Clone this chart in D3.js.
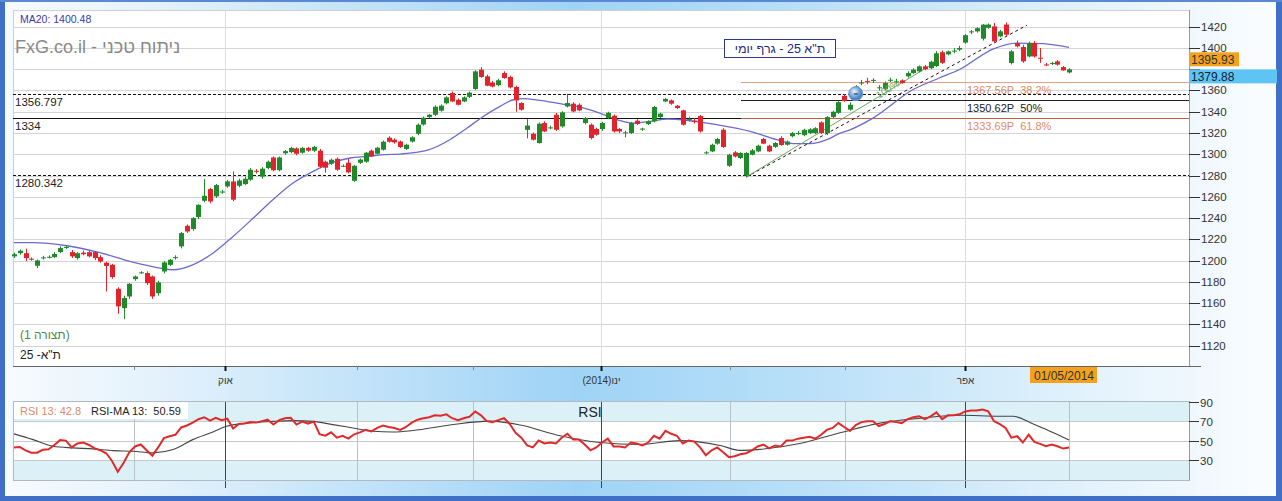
<!DOCTYPE html>
<html><head><meta charset="utf-8">
<script src="https://cdn.jsdelivr.net/npm/d3@7"></script>
<style>html,body{margin:0;padding:0;overflow:hidden;background:#fff}svg{display:block}</style>
</head><body>
<svg id="c" width="1282" height="501"></svg>
<script>
// ---------- DATA ----------
const opens = [1204,1207,1207,1201.8,1195.2,1202.4,1203.3,1203.3,1208,1212.3,1208,1202.4,1207.5,1208,1208,1203.3,1198,1196.1,1173.5,1155.3,1166.3,1182.6,1188.3,1188.3,1185.1,1169.4,1189.8,1196,1202.8,1213.4,1232.8,1229.7,1241,1256.3,1267.3,1260.4,1264,1269.8,1274.5,1270.4,1272,1276.1,1284.5,1279,1287,1297,1285,1301,1302,1305.5,1301.5,1306,1303.4,1303.4,1293,1291.1,1295.8,1289.2,1292.1,1275.1,1292,1293,1303.4,1300.5,1304.3,1315.6,1313.7,1312,1305,1312,1319.3,1328,1335,1337.2,1341,1348,1357.6,1351.3,1349.7,1354,1361.4,1379.6,1373.3,1367.5,1365,1376.4,1372.7,1363.3,1348.2,1323,1319.3,1310.6,1329.4,1325,1337.2,1326.2,1345,1347.6,1346.6,1329.4,1327.8,1323.8,1323.8,1334.1,1336.3,1323.8,1320,1320,1331.6,1323.8,1328.5,1331,1335,1349.7,1350.7,1345.7,1341.3,1333,1331.5,1336,1301.5,1302.7,1310,1323.1,1289.2,1301.8,1296.5,1280,1299.6,1302.7,1314.4,1308.1,1307,1315.3,1309,1317,1319.5,1318,1320,1320,1330,1320,1335,1339,1355,1342,1358,1367,1369,1369.5,1362.3,1361.5,1369.5,1368,1369.5,1373.3,1376.4,1378,1382.7,1381,1383,1396,1394,1397,1398.4,1405,1415,1415.6,1408.7,1419,1420.3,1410.9,1422,1385.8,1404.6,1400.9,1392,1404.6,1390.8,1384.5,1385.6,1387.4,1382,1377];
const highs = [1207.5,1210.5,1211.2,1203,1201,1204.5,1205,1208,1213.5,1214.5,1210,1208,1209.5,1209.5,1209,1205,1199,1197,1175,1167,1179,1186,1190,1190,1186,1181,1199.5,1201.5,1205,1227,1234,1241,1253,1276.7,1268.5,1272,1266.5,1276,1284,1277,1279,1287,1286,1288,1294,1298,1298,1304,1307,1306.5,1307,1307,1308,1305,1294,1296,1297,1290.5,1296,1290,1296,1302,1304.5,1307,1313,1317,1315,1313,1310,1317,1329,1335.5,1338,1346,1347,1354.5,1359,1352.5,1354.5,1359,1379,1382,1375,1369,1371,1378,1374,1364.5,1349,1333,1320.5,1330,1331,1327,1339,1340.5,1357,1349,1348,1335,1329,1325,1330.5,1340,1337.5,1324.5,1322,1330.5,1333,1325,1332,1345.5,1339,1353,1351.5,1346.5,1342,1335.5,1334,1337,1303,1310,1315.5,1324.5,1300.5,1303,1302,1302,1305,1309,1315.5,1309,1311.5,1317,1313,1321,1322,1324,1324.5,1325.5,1331,1336,1341,1350,1356.5,1349,1365,1370,1372,1371.5,1365,1368.5,1372,1371,1370.5,1378,1381,1383.5,1384,1388,1397,1397.5,1397.5,1400,1402,1413,1417,1419.5,1422.5,1423,1423.5,1417,1424,1398,1407,1403,1406,1406.5,1400,1386,1387,1388.5,1383,1381];
const lows = [1202.5,1205.5,1199.5,1200,1193,1201,1202,1202.5,1207,1211,1202.5,1201,1205,1203,1200.5,1198,1171,1183,1150,1145,1164,1181,1187.5,1177,1164,1167,1188,1195,1201,1211.5,1226,1228,1239,1255,1254,1259,1263,1268.5,1256,1269,1271,1275,1282,1277,1286,1284,1284,1299.5,1301,1299,1300.5,1302.5,1302,1287,1282.7,1290,1284.5,1288,1282,1274,1291,1292,1297.5,1300,1303.5,1311,1310,1306,1304,1311,1318,1327,1334,1336,1340,1347,1349,1346,1349,1353,1360.5,1372,1364,1363,1364,1371,1362,1340,1341,1315,1313,1310,1321,1323.5,1322,1325,1344,1339.5,1340.5,1328,1314,1317.5,1322,1333,1320.5,1320,1316,1319,1327.5,1322,1327.5,1330,1334,1349,1346.5,1342.5,1327,1331,1329,1320.5,1300,1302,1309,1306,1288,1297,1295.5,1278.6,1299,1302,1309.5,1302,1306,1308,1308,1316,1318,1317,1319,1319,1319,1318,1334,1338,1349.5,1341,1357,1365,1366,1367,1360,1360.5,1368,1366.5,1366.5,1372,1375.5,1377,1379,1380,1382,1385,1393,1395,1397,1404,1413,1414.5,1407,1418,1405,1410,1411.5,1384.5,1400.5,1386,1391,1391,1386,1383,1384,1383.5,1378.5,1376];
const closes = [1206,1209.3,1202.4,1201.3,1200.2,1203,1203.6,1206.2,1211.8,1212.9,1204,1207,1206,1204,1202.4,1199.2,1195,1184.5,1157,1164.8,1178.2,1185.1,1189,1178.8,1166.3,1179.5,1198.3,1200.8,1203.3,1225.9,1227.4,1240,1252.5,1261,1255.7,1271,1265,1274.5,1257.3,1275.4,1277,1285.5,1283.9,1286.5,1293,1285,1297,1303,1306,1300.5,1306,1303.4,1307,1288.3,1287.4,1294.9,1285.5,1289.2,1283,1289.2,1295,1301.5,1298,1306.2,1311.8,1311.8,1311.2,1306.8,1309,1316,1327.8,1334.4,1337.2,1344.7,1345.7,1353.5,1349.7,1346.6,1353.5,1358,1378,1372.7,1364.5,1363.7,1369.6,1371.7,1362.9,1350.7,1341.9,1327,1313.7,1328.8,1321.5,1325.3,1323.1,1339.4,1348.2,1340.3,1341.3,1334.1,1315.3,1318.4,1329.4,1339,1321.5,1321.5,1320.6,1329.4,1328.5,1324.2,1330.9,1344.5,1338.2,1352,1347.6,1343.5,1327.8,1333.3,1331.2,1321.5,1301.8,1309,1314.4,1306.8,1299.6,1298,1301.2,1301.2,1303.7,1308.1,1310,1302.7,1310.6,1308.7,1312,1320,1320,1323,1323.5,1324.5,1320,1335,1340,1349,1350,1346.6,1363.8,1367.5,1368.6,1370,1363,1367,1370.1,1368.6,1367,1376.4,1379.6,1382.7,1380,1387,1395,1386,1396.8,1397.5,1400,1412,1415.6,1418.6,1421.9,1422,1406.2,1415.6,1412.5,1396.8,1401.5,1387.4,1404.6,1392,1390.3,1384.3,1385.8,1384.3,1378.9,1379.88];

// MA20 read at sampled candle positions
const ma20Idx = [0,3.3,9.2,14.9,20.6,25.3,27.6,31,34.5,38,41.5,44.9,48.4,51.9,55.3,58.3,61.2,64,67,71.6,75.6,78.6,81.4,84.3,86.6,88.3,91.2,94.7,97.7,101.6,104.6,107.4,110.3,113.3,116,119,121.9,127.7,132.3,135.1,138.1,141,143.3,145,149,155.9,160.6,164.1,169.8,174,178.5,183];
const ma20Val = [1217,1217,1214,1207.5,1198.5,1193,1191.4,1196,1207,1222.7,1240,1257.3,1273,1284,1292.4,1296.5,1298,1299.6,1300.2,1303.6,1313.7,1324.7,1335.6,1345,1351.3,1352.3,1350.7,1347.6,1345,1338.8,1332.5,1329.4,1330.9,1333.2,1332.5,1330.3,1327.8,1321.5,1313.7,1310,1310,1313.7,1320,1323,1334,1360.7,1372,1380,1399,1404.6,1404,1400.48];

// RSI(13) per candle
const rsi = [43,43.5,40,37.5,37.5,40.5,41,45.5,50.5,50,43,47,48,45.5,42,40,37,29,18,27,38,44,46,40,34.5,43,52.5,54.5,56,63.5,65.5,68.5,72,74,70.5,73.5,71,72.5,62.5,67,67.5,69,68.5,70,71.5,66.5,71,73,73.5,66.5,69.5,67.5,69.5,56.5,55,58.5,53,55,52,56.5,58.5,61,59.5,63,65.5,64,63,61,64,68.5,71.5,
73,74,76,75.5,77,73,71,73,74.5,80,76,70,69,71,73,67,58,53,45,43,50,47,48,47,53,57,51,51,46,40,43,48,52,44,44,43,48,47,45,48,55,52,60,57,55,47,50,49,43,35,40,43,38,33,34,36,37,40,44,46,42,45,44,50,50,52,53,54,52,56,61,63,68,64,60,66,69,70,70,65,67,70,69,68,72,74,75,72,75,79,72,76,76,77,80,81,81,82,80,70,67,63,53,54.5,48,56,48.6,46.6,44.2,45.9,44.2,41.8,42.8];
// RSI-MA(13) sampled
const rsiMaIdx = [0,3.3,6.8,10.2,13.7,17.2,20.6,24.1,27.6,31,34.5,36.9,40.9,45,48.4,51.9,55.3,58.8,62.3,65.7,69.2,75.6,82.6,87.8,94.7,101.6,108.6,115.5,122.5,125.9,129.4,136.3,143.3,150.2,157.2,164.1,171,173.3,176.8,179.7,183];
const rsiMaVal = [56.9,51,44.2,42.5,41.5,39.7,39,37.4,40.8,51,58.9,64.7,68.2,69.8,70.5,69.8,66.4,63,59.6,58.9,60.3,66,70,66,55,48,46,50,45,40,41,47,58,68,73,76,75,75,67,59.6,50.59];

const priceTicks = [1120,1140,1160,1180,1200,1220,1240,1260,1280,1300,1320,1340,1360,1380,1400,1420];
const hiddenPriceLabels = [1380];
const rsiTicks = [30,50,70,90];
const monthLabels = ["אוק","ינו(2014)","אפר"];
const monthIdx = [36.6,101.8,165];
const minorIdx = [20.8,59.5,79.6,124.2,144.1];
const hLevels = [1356.797,1334,1280.342];
const hLabels = ["1356.797","1334","1280.342"];
const hDashed = [true,false,true];
const fibLevels = [1367.56,1350.62,1333.69];
const fibLabels = ["1367.56P\u00a0\u00a038.2%","1350.62P\u00a0\u00a050%","1333.69P\u00a0\u00a061.8%"];
const trendIdx = [[127,175.7],[127,160]];
const trendVal = [[1278.6,1421.4],[1278.6,1387]];

// ---------- LAYOUT ----------
const W=1282,H=501;
const L=13,R=1189,T=10,B=366;
const rT=401,rB=480;
const FONT="Liberation Sans, Arial, sans-serif";
const svg=d3.select("#c");
const defs=svg.append("defs");
const bg=defs.append("linearGradient").attr("id","bg").attr("x1",0).attr("x2",1).attr("y1",0).attr("y2",0);
[[0,"#f7fbfe"],[0.12,"#e4f2fc"],[0.45,"#9fd3f6"],[0.62,"#b7dff8"],[0.85,"#e3f2fc"],[1,"#fbfdff"]].forEach(s=>bg.append("stop").attr("offset",s[0]).attr("stop-color",s[1]));
svg.append("rect").attr("width",W).attr("height",H).attr("fill","url(#bg)");
// frame
svg.append("rect").attr("x",0).attr("y",0).attr("width",5).attr("height",H).attr("fill","#3f6fc6");
svg.append("rect").attr("x",W-6).attr("y",0).attr("width",6).attr("height",H).attr("fill","#3f6fc6");
svg.append("rect").attr("x",0).attr("y",0).attr("width",W).attr("height",2).attr("fill","#5a88d4");
svg.append("rect").attr("x",0).attr("y",H-5).attr("width",W).attr("height",5).attr("fill","#3f6fc6");

const x=d3.scaleLinear().domain([0,opens.length-1]).range([14,1069]);
const y=d3.scaleLinear().domain([1100.9,1435.7]).range([B,T]);
const yr=d3.scaleLinear().domain([9.5,90.7]).range([rB,rT]);

// main plot bg
svg.append("rect").attr("x",L).attr("y",T).attr("width",R-L).attr("height",B-T).attr("fill","#fff");
const gGrid=svg.append("g");
priceTicks.forEach(p=>gGrid.append("line").attr("x1",L).attr("x2",R).attr("y1",Math.round(y(p))+0.5).attr("y2",Math.round(y(p))+0.5).attr("stroke","#d4d4d4"));
monthIdx.forEach(i=>gGrid.append("line").attr("x1",Math.round(x(i))+0.5).attr("x2",Math.round(x(i))+0.5).attr("y1",T).attr("y2",B).attr("stroke","#dcdcdc"));
svg.append("rect").attr("x",L+0.5).attr("y",T+0.5).attr("width",R-L).attr("height",B-T).attr("fill","none").attr("stroke","#d0d0d0");

// horizontal levels
hLevels.forEach((v,k)=>{
  const yy=Math.round(y(v))+0.5;
  svg.append("line").attr("x1",L).attr("x2",R).attr("y1",yy).attr("y2",yy).attr("stroke","#111").attr("stroke-width",1).attr("stroke-dasharray",hDashed[k]?"3,2":null);
  svg.append("text").attr("x",15).attr("y",yy+11).attr("font-family",FONT).attr("font-size",11.5).attr("fill","#222").text(hLabels[k]);
});
// fib levels
const fibCol=["#e8a085","#222","#c06040"];
const fibTxt=["#e08a6a","#222","#e08a6a"];
fibLevels.forEach((v,k)=>{
  const yy=Math.round(y(v))+0.5;
  svg.append("line").attr("x1",741).attr("x2",R).attr("y1",yy).attr("y2",yy).attr("stroke",fibCol[k]).attr("stroke-width",1);
  svg.append("text").attr("x",967).attr("y",yy+11).attr("font-family",FONT).attr("font-size",11).attr("fill",fibTxt[k]).text(fibLabels[k]);
});

// MA20
svg.append("path").datum(ma20Idx.map((d,i)=>[d,ma20Val[i]]))
  .attr("d",d3.line().x(d=>x(d[0])).y(d=>y(d[1])).curve(d3.curveMonotoneX))
  .attr("fill","none").attr("stroke","#6a6ad0").attr("stroke-width",1.3);

// trend lines
svg.append("line").attr("x1",x(trendIdx[0][0])).attr("y1",y(trendVal[0][0])).attr("x2",x(trendIdx[0][1])).attr("y2",y(trendVal[0][1])).attr("stroke","#111").attr("stroke-dasharray","3,3");
svg.append("line").attr("x1",x(trendIdx[1][0])).attr("y1",y(trendVal[1][0])).attr("x2",x(trendIdx[1][1])).attr("y2",y(trendVal[1][1])).attr("stroke","#6aaa5a");

// candles
const up="#1f8a2a",dn="#e3232b";
const gC=svg.append("g");
opens.forEach((o,i)=>{
  const c=closes[i],col=c>=o?up:dn,cx=Math.round(x(i))+0.5;
  gC.append("line").attr("x1",cx).attr("x2",cx).attr("y1",y(highs[i])).attr("y2",y(lows[i])).attr("stroke",col);
  const y0=y(Math.max(o,c)),h=Math.max(1,y(Math.min(o,c))-y0);
  gC.append("rect").attr("x",cx-2.5).attr("y",y0).attr("width",5).attr("height",h).attr("fill",col);
});

// circle marker
const cg=defs.append("radialGradient").attr("id","cg").attr("cx","40%").attr("cy","35%");
cg.append("stop").attr("offset",0).attr("stop-color","#e8f4ff");
cg.append("stop").attr("offset",1).attr("stop-color","#4a86c8");
svg.append("circle").attr("cx",x(146)).attr("cy",y(1357)).attr("r",7).attr("fill","url(#cg)").attr("stroke","#6a9ad0");
svg.append("text").attr("x",x(146)).attr("y",y(1357)+3).attr("text-anchor","middle").attr("font-size",9).attr("fill","#234").text("=");
svg.append("text").attr("transform",`translate(${x(150)},${y(1352)}) rotate(-33)`).attr("font-family",FONT).attr("font-size",10).attr("fill","#6aaa5a").text("100%");

// texts
svg.append("text").attr("x",20).attr("y",23).attr("font-family",FONT).attr("font-size",10.5).attr("fill","#3a3aaa").text("MA20: 1400.48");
svg.append("text").attr("x",15).attr("y",53).attr("font-family",FONT).attr("font-size",18).attr("fill","#8a8a8a").text("FxG.co.il - ניתוח טכני");
svg.append("rect").attr("x",724.5).attr("y",39.5).attr("width",111).attr("height",18).attr("fill","#fff").attr("stroke","#2b3a8a");
svg.append("text").attr("x",780).attr("y",53).attr("text-anchor","middle").attr("direction","rtl").attr("font-family",FONT).attr("font-size",12.5).attr("fill","#1e2a80").text("ת\"א 25 - גרף יומי");
svg.append("text").attr("x",20).attr("y",339).attr("font-family",FONT).attr("font-size",12).attr("fill","#4e8a3e").text("(תצורה 1)");
svg.append("text").attr("x",20).attr("y",359).attr("font-family",FONT).attr("font-size",12).attr("fill","#222").text("ת\"א- 25");

// right axis
svg.append("line").attr("x1",R+0.5).attr("x2",R+0.5).attr("y1",T).attr("y2",B).attr("stroke","#8a9aaa");
priceTicks.forEach(p=>{
  const yy=Math.round(y(p))+0.5;
  svg.append("line").attr("x1",R).attr("x2",R+11).attr("y1",yy).attr("y2",yy).attr("stroke","#333");
  if(hiddenPriceLabels.indexOf(p)<0)
    svg.append("text").attr("x",R+12).attr("y",yy+3.5).attr("font-family",FONT).attr("font-size",11.5).attr("fill","#333").text(p);
});
// price tags
svg.append("rect").attr("x",R).attr("y",y(1395.93)).attr("width",50).attr("height",14).attr("fill","#f4a21e");
svg.append("text").attr("x",R+2).attr("y",y(1395.93)+11.5).attr("font-family",FONT).attr("font-size",12).attr("fill","#333").text("1395.93");
svg.append("rect").attr("x",R).attr("y",y(1379.88)).attr("width",88).attr("height",14).attr("fill","#5ec4f4");
svg.append("text").attr("x",R+2).attr("y",y(1379.88)+11.5).attr("font-family",FONT).attr("font-size",12).attr("fill","#123").text("1379.88");

// bottom axis
svg.append("line").attr("x1",L).attr("x2",R+12).attr("y1",B+0.5).attr("y2",B+0.5).attr("stroke","#666");
monthIdx.forEach((i,k)=>{
  const xx=Math.round(x(i))+0.5;
  svg.append("line").attr("x1",xx).attr("x2",xx).attr("y1",B).attr("y2",B+5).attr("stroke","#111").attr("stroke-width",2);
  svg.append("text").attr("x",xx).attr("y",B+18).attr("text-anchor","middle").attr("direction","rtl").attr("font-family",FONT).attr("font-size",10).attr("fill","#333").text(monthLabels[k]);
});
minorIdx.forEach(i=>{const xx=Math.round(x(i))+0.5;svg.append("line").attr("x1",xx).attr("x2",xx).attr("y1",B).attr("y2",B+4).attr("stroke","#888");});
svg.append("rect").attr("x",x(183)-39).attr("y",B+1).attr("width",67).attr("height",16).attr("fill","#f4a21e");
svg.append("text").attr("x",x(183)-5).attr("y",B+13.5).attr("text-anchor","middle").attr("font-family",FONT).attr("font-size",12).attr("fill","#333").text("01/05/2014");

// ---------- RSI ----------
svg.append("rect").attr("x",L).attr("y",rT).attr("width",R-L).attr("height",rB-rT).attr("fill","#dcf0f8");
svg.append("rect").attr("x",L).attr("y",yr(70)).attr("width",R-L).attr("height",yr(30)-yr(70)).attr("fill","#fff");
[30,50,70].forEach(v=>svg.append("line").attr("x1",L).attr("x2",R).attr("y1",Math.round(yr(v))+0.5).attr("y2",Math.round(yr(v))+0.5).attr("stroke","#c8c8c8"));
minorIdx.concat([183]).forEach(i=>{const xx=Math.round(x(i))+0.5;svg.append("line").attr("x1",xx).attr("x2",xx).attr("y1",rT).attr("y2",rB).attr("stroke","#b8c0c8");});
monthIdx.forEach(i=>{const xx=Math.round(x(i))+0.5;svg.append("line").attr("x1",xx).attr("x2",xx).attr("y1",rT).attr("y2",rB+8).attr("stroke","#444");});
svg.append("rect").attr("x",L+0.5).attr("y",rT+0.5).attr("width",R-L).attr("height",rB-rT).attr("fill","none").attr("stroke","#b0b8c0");
svg.append("path").datum(rsiMaIdx.map((d,i)=>[d,rsiMaVal[i]]))
  .attr("d",d3.line().x(d=>x(d[0])).y(d=>yr(d[1])).curve(d3.curveMonotoneX))
  .attr("fill","none").attr("stroke","#444").attr("stroke-width",1.1);
svg.append("path").datum(rsi)
  .attr("d",d3.line().x((d,i)=>x(i)).y(d=>yr(d)))
  .attr("fill","none").attr("stroke","#e02a2a").attr("stroke-width",2);
svg.append("rect").attr("x",L+1).attr("y",rT+1).attr("width",174).attr("height",17).attr("fill","#fff");
svg.append("text").attr("x",20).attr("y",rT+14).attr("font-family",FONT).attr("font-size",11).attr("fill","#e08a6a").text("RSI 13: 42.8");
svg.append("text").attr("x",91).attr("y",rT+14).attr("font-family",FONT).attr("font-size",11).attr("fill","#222").text("RSI-MA 13:\u00a0\u00a050.59");
svg.append("text").attr("x",590).attr("y",rT+16).attr("text-anchor","middle").attr("font-family",FONT).attr("font-size",14).attr("fill","#222").text("RSI");
svg.append("line").attr("x1",R+0.5).attr("x2",R+0.5).attr("y1",rT).attr("y2",rB).attr("stroke","#8a9aaa");
rsiTicks.forEach(v=>{
  const yy=Math.round(yr(v))+0.5;
  svg.append("line").attr("x1",R).attr("x2",R+10).attr("y1",yy).attr("y2",yy).attr("stroke","#333");
  svg.append("text").attr("x",R+11).attr("y",yy+4).attr("font-family",FONT).attr("font-size",11.5).attr("fill","#333").text(v);
});
</script>
</body></html>
